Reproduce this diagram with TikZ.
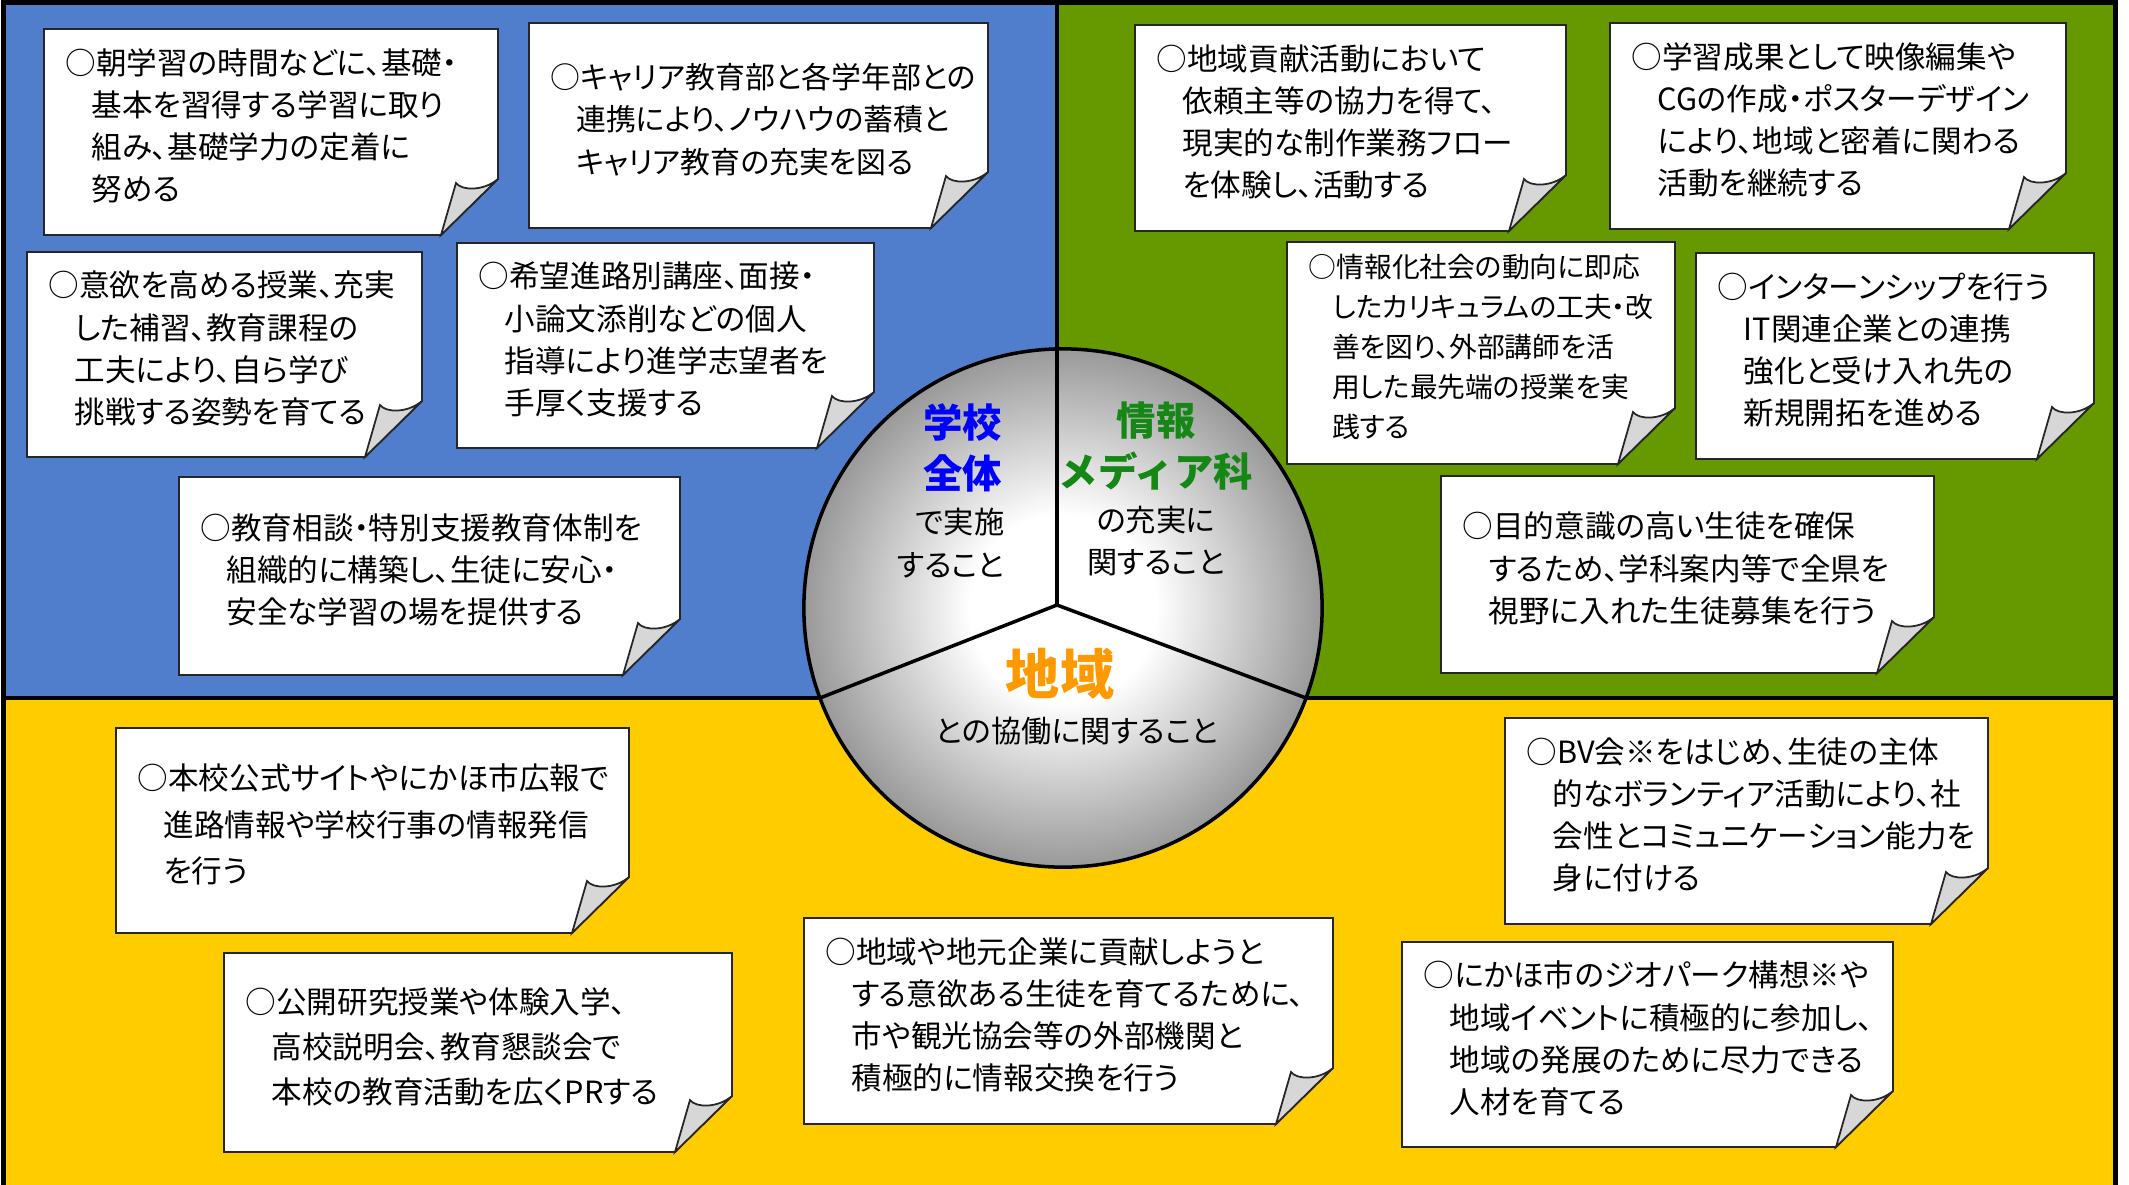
\documentclass[tikz,border=0pt]{standalone}
\usepackage{fontspec}
\setmainfont{Noto Sans CJK JP}[RawFeature=+palt]
\newfontfamily\hubfont{Noto Sans CJK JP}
\usepackage{xcolor}

\definecolor{blueq}{RGB}{80,126,204}
\definecolor{greenq}{RGB}{102,153,0}
\definecolor{yellowq}{RGB}{255,204,0}
\definecolor{flapgray}{RGB}{215,215,215}
\definecolor{titleblue}{RGB}{0,0,255}
\definecolor{titlegreen}{RGB}{20,135,20}
\definecolor{titleorange}{RGB}{255,153,0}

\pgfdeclareradialshading{hubshade}{\pgfpoint{0bp}{0bp}}{color(0bp)=(white); color(9bp)=(white); color(25bp)=(black!40); color(50bp)=(black!40)}

\newcommand{\indnt}{\hspace*{0.85em}}
% note with a curled corner: [text options], name, left, top, right, bottom, text
\newcommand{\notebox}[7][]{%
    \filldraw[notebody] (#3,#4) -- (#5,#4) -- (#5,#6-56) -- (#5-57,#6) -- (#3,#6) -- cycle;
    \filldraw[noteflap] (#5-57,#6) -- (#5-42,#6-52) .. controls (#5-36,#6-44) and (#5-14,#6-44) .. (#5,#6-56) -- cycle;
    \node[notetext, #1] (#2) at (#3+21,{(#4+#6)/2-6}) {#7};
}

\begin{document}
\begin{tikzpicture}[x=0.01cm, y=-0.01cm,
    frame/.style={line width=1.6pt},
    divider/.style={line width=1.1pt},
    notebody/.style={fill=white, draw=black!85, line width=0.5pt},
    noteflap/.style={fill=flapgray, draw=black!85, line width=0.5pt},
    notetext/.style={anchor=west, align=left, inner sep=0pt, font=\fontsize{8.7pt}{12pt}\selectfont},
    hub/.style={circle, draw, line width=1pt, minimum size=5.18cm, inner sep=0pt, shading=hubshade},
    wedgetitle/.style={inner sep=0pt, font=\hubfont\bfseries\fontsize{11.2pt}{14.6pt}\selectfont},
    wedgesub/.style={inner sep=0pt, font=\fontsize{8.6pt}{12.2pt}\selectfont}]

    % Background
    \useasboundingbox (0,0) rectangle (2129,1184);
    \clip (0,0) rectangle (2129,1184);
    \fill[blueq] (3,2) rectangle (1057,698);
    \fill[greenq] (1057,2) rectangle (2116,698);
    \fill[yellowq] (3,698) rectangle (2116,1200);
    \draw[frame] (3.5,1200) -- (3.5,2.5) -- (2115.5,2.5) -- (2115.5,1200);
    \draw[divider] (1057,2.5) -- (1057,698);
    \draw[divider] (3.5,698) -- (2115.5,698);

    % Notes: school-wide
    \notebox{sch1}{44}{29}{498}{235}{○朝学習の時間などに、基礎・\\\indnt 基本を習得する学習に取り\\\indnt 組み、基礎学力の定着に\\\indnt 努める}
    \notebox[font=\fontsize{8.5pt}{12pt}\selectfont]{sch2}{529}{23}{988}{228}{○キャリア教育部と各学年部との\\\indnt 連携により、ノウハウの蓄積と\\\indnt キャリア教育の充実を図る}
    \notebox{sch3}{27}{252}{422}{457}{○意欲を高める授業、充実\\\indnt した補習、教育課程の\\\indnt 工夫により、自ら学び\\\indnt 挑戦する姿勢を育てる}
    \notebox{sch4}{457}{243}{874}{448}{○希望進路別講座、面接・\\\indnt 小論文添削などの個人\\\indnt 指導により進学志望者を\\\indnt 手厚く支援する}
    \notebox{sch5}{179}{477}{680}{675}{○教育相談・特別支援教育体制を\\\indnt 組織的に構築し、生徒に安心・\\\indnt 安全な学習の場を提供する}

    % Notes: media course
    \notebox{med1}{1135}{25}{1566}{231}{○地域貢献活動において\\\indnt 依頼主等の協力を得て、\\\indnt 現実的な制作業務フロー\\\indnt を体験し、活動する}
    \notebox{med2}{1610}{23}{2066}{229}{○学習成果として映像編集や\\\indnt CGの作成・ポスターデザイン\\\indnt により、地域と密着に関わる\\\indnt 活動を継続する}
    \notebox[font=\fontsize{7.9pt}{11.4pt}\selectfont]{med3}{1287}{242}{1675}{464}{○情報化社会の動向に即応\\\indnt したカリキュラムの工夫・改\\\indnt 善を図り、外部講師を活\\\indnt 用した最先端の授業を実\\\indnt 践する}
    \notebox{med4}{1696}{253}{2094}{459}{○インターンシップを行う\\\indnt IT関連企業との連携\\\indnt 強化と受け入れ先の\\\indnt 新規開拓を進める}
    \notebox{med5}{1441}{476}{1934}{673}{○目的意識の高い生徒を確保\\\indnt するため、学科案内等で全県を\\\indnt 視野に入れた生徒募集を行う}

    % Notes: local area
    \notebox[font=\fontsize{8.7pt}{13.3pt}\selectfont]{loc1}{116}{728}{629}{933}{○本校公式サイトやにかほ市広報で\\\indnt 進路情報や学校行事の情報発信\\\indnt を行う}
    \notebox[font=\fontsize{8.7pt}{12.8pt}\selectfont]{loc2}{224}{953}{732}{1152}{○公開研究授業や体験入学、\\\indnt 高校説明会、教育懇談会で\\\indnt 本校の教育活動を広くPRする}
    \notebox{loc3}{804}{918}{1333}{1124}{○地域や地元企業に貢献しようと\\\indnt する意欲ある生徒を育てるために、\\\indnt 市や観光協会等の外部機関と\\\indnt 積極的に情報交換を行う}
    \notebox{loc4}{1505}{718}{1988}{924}{○BV会※をはじめ、生徒の主体\\\indnt 的なボランティア活動により、社\\\indnt 会性とコミュニケーション能力を\\\indnt 身に付ける}
    \notebox{loc5}{1402}{942}{1893}{1147}{○にかほ市のジオパーク構想※や\\\indnt 地域イベントに積極的に参加し、\\\indnt 地域の発展のために尽力できる\\\indnt 人材を育てる}

    % Circle
    \node[hub] (hub) at (1063,608) {};
    \coordinate (jn) at (1057,605);
    \coordinate (cu) at (1057,349);
    \coordinate (cl) at (820,698);
    \coordinate (cr) at (1306,698);
    \draw[line width=1pt] (jn) -- (cu) (jn) -- (cl) (jn) -- (cr);

    \node[wedgetitle, text=titleblue, align=right, anchor=east] (schtitle) at (1003,448) {学校\\全体};
    \node[wedgesub, align=right, anchor=east] (schsub) at (1005,543) {で実施\\すること};
    \node[wedgetitle, text=titlegreen, align=center] (medtitle) at (1156,446) {情報\\メディア科};
    \node[wedgesub, align=center] (medsub) at (1156,541) {の充実に\\関すること};
    \node[inner sep=0pt, font=\hubfont\bfseries\fontsize{15.4pt}{16pt}\selectfont, text=titleorange] (loctitle) at (1060,674) {地域};
    \node[wedgesub] (locsub) at (1077,731) {との協働に関すること};
\end{tikzpicture}
\end{document}
